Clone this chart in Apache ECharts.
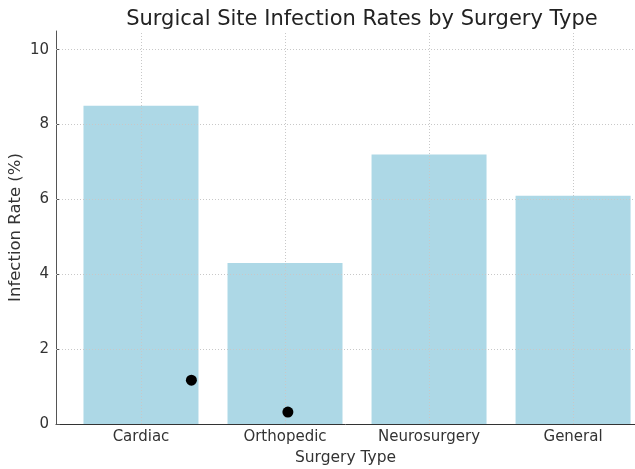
<!DOCTYPE html>
<html lang="en">
<head>
    <meta charset="utf-8">
    <title>Surgical Site Infection Rates</title>
    <script src="https://cdn.jsdelivr.net/npm/echarts@6/dist/echarts.min.js"></script>
    <style>
        html, body { margin: 0; padding: 0; background: #fff; }
        #main { width: 635px; height: 469px; }
    </style>
</head>
<body>
<div id="main"></div>

<script type="text/javascript">
    // data
    var categories = ['Cardiac', 'Orthopedic', 'Neurosurgery', 'General'];
    var rates = [8.5, 4.3, 7.2, 6.1];
    // the two black dots (x in category units, y in %)
    var dotX = [0.35, 1.02];
    var dotY = [1.17, 0.32];
    var yTicks = [0, 2, 4, 6, 8, 10];
    var xTicks = [0, 1, 2, 3];

    var barData = rates.map(function (v, i) { return [i, v]; });
    var dotData = dotX.map(function (x, i) { return [x, dotY[i]]; });

    // dotted grid, drawn over the bars like in the original
    var gridStyle = { color: '#c8c8c8', type: [1, 2], width: 1 };
    var gridLines = [];
    yTicks.slice(1).forEach(function (v) { gridLines.push({ yAxis: v }); });
    xTicks.forEach(function (v) { gridLines.push({ xAxis: v }); });

    var font = 'DejaVu Sans';
    var myChart = echarts.init(document.getElementById('main'));

    myChart.setOption({
        animation: false,
        title: {
            text: 'Surgical Site Infection Rates by Surgery Type',
            left: 357,
            textAlign: 'center',
            top: 4,
            textStyle: { fontFamily: font, fontSize: 21, fontWeight: 'normal', color: '#222' }
        },
        grid: { left: 56, right: 0, top: 31, bottom: 45, containLabel: false, outerBoundsMode: 'none' },
        xAxis: {
            type: 'value',
            min: -0.59,
            max: 3.43,
            name: 'Surgery Type',
            nameLocation: 'middle',
            nameGap: 26,
            nameTextStyle: { fontFamily: font, fontSize: 15.5, color: '#333' },
            axisLine: { show: true, onZero: false, lineStyle: { color: '#333', width: 1 } },
            axisTick: { show: true, inside: true, length: 4, customValues: xTicks, lineStyle: { color: '#333' } },
            axisLabel: {
                customValues: xTicks,
                margin: 6,
                fontFamily: font, fontSize: 15, color: '#333',
                formatter: function (v) { return categories[Math.round(v)]; }
            },
            splitLine: { show: false }
        },
        yAxis: {
            type: 'value',
            min: 0,
            max: 10.5,
            name: 'Infection Rate (%)',
            nameLocation: 'middle',
            nameGap: 32,
            nameMoveOverlap: false,
            nameTextStyle: { fontFamily: font, fontSize: 16.5, color: '#333' },
            axisLine: { show: true, onZero: false, lineStyle: { color: '#555', width: 1 } },
            axisTick: { show: true, inside: true, length: 4, customValues: yTicks, lineStyle: { color: '#555' } },
            axisLabel: { customValues: yTicks, margin: 7, fontFamily: font, fontSize: 15, color: '#333' },
            splitLine: { show: false }
        },
        series: [{
            type: 'bar',
            data: barData,
            barWidth: 115,
            itemStyle: { color: '#add8e6' },
            z: 2,
            markLine: {
                silent: true,
                symbol: 'none',
                label: { show: false },
                lineStyle: gridStyle,
                data: gridLines,
                z: 3
            }
        }, {
            type: 'scatter',
            data: dotData,
            symbolSize: 11,
            itemStyle: { color: '#000', opacity: 1 },
            z: 4
        }]
    });
</script>
</body>
</html>
